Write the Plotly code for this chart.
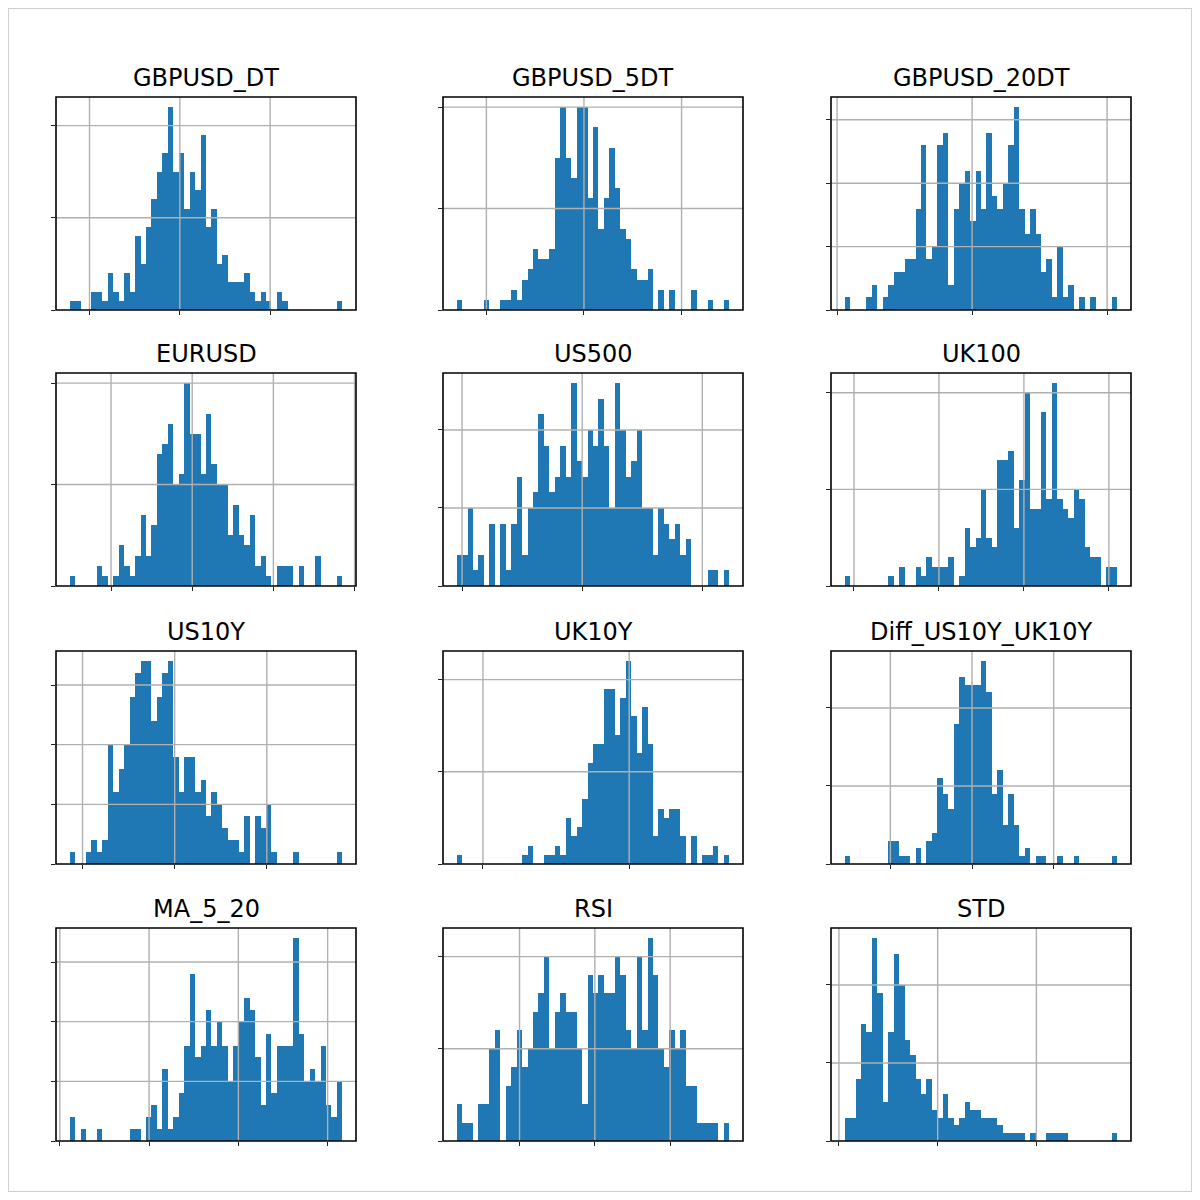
import numpy as np
import plotly.graph_objects as go

# histogram counts (50 bins each)
names = ["GBPUSD_DT", "GBPUSD_5DT", "GBPUSD_20DT", "EURUSD", "US500", "UK100",
         "US10Y", "UK10Y", "Diff_US10Y_UK10Y", "MA_5_20", "RSI", "STD"]

gbpusd_dt = [1,1,0,0,2,2,1,4,2,1, 4,2,8,5,9,12,15,17,22,15, 17,11,15,13,19,9,11,5,6,3,
             3,3,4,2,1,2,1,0,2,1, 0,0,0,0,0,0,0,0,0,1]
gbpusd_5dt = [1,0,0,0,0,1,0,0,1,1, 2,1,3,4,6,5,5,6,15,20, 15,13,20,20,11,18,8,11,16,12,
              8,7,4,3,3,4,0,2,0,2, 0,0,0,2,0,0,1,0,0,1]
gbpusd_20dt = [1,0,0,0,1,2,0,1,2,3, 3,4,4,8,13,4,5,13,14,2, 8,10,11,7,11,8,14,9,8,10,
               13,16,8,6,8,6,3,4,1,5, 1,2,0,1,0,1,0,0,0,1]
eurusd = [1,0,0,0,0,2,1,0,1,4, 2,1,3,7,3,6,13,14,16,10, 11,20,15,15,11,17,12,10,10,5,
          8,5,4,7,2,3,1,0,2,2, 2,0,2,0,0,3,0,0,0,1]
us500 = [2,2,5,1,2,0,4,0,4,1, 4,7,2,5,6,11,9,6,7,9, 7,13,8,7,10,9,12,9,5,13,
         10,7,8,10,5,5,2,5,4,3, 4,2,3,0,0,0,1,1,0,1]
uk100 = [1,0,0,0,0,0,0,0,1,0, 2,0,0,2,1,3,2,2,2,3, 0,1,6,4,5,10,5,4,13,13,
         14,6,11,20,8,8,18,9,21,9, 8,7,10,9,4,3,3,0,2,2]
us10y = [1,0,0,1,2,1,2,10,6,8, 10,14,16,17,17,12,14,16,17,9, 6,9,9,6,7,4,6,5,3,2,
         2,1,4,0,4,3,5,1,0,0, 0,1,0,0,0,0,0,0,0,1]
uk10y = [1,0,0,0,0,0,0,0,0,0, 0,0,1,2,0,0,1,1,2,1, 5,3,4,7,11,13,13,19,19,14,
         18,22,16,12,17,13,3,6,5,6, 6,3,0,3,0,1,1,2,0,1]
diff_us_uk = [1,0,0,0,0,0,0,0,3,3, 1,1,0,2,0,3,4,11,9,7, 18,24,23,23,23,26,22,9,12,5,
              9,5,1,2,0,1,1,0,0,1, 0,0,1,0,0,0,0,0,0,1]
ma_5_20 = [2,0,1,0,0,1,0,0,0,0, 0,1,1,0,2,3,1,6,1,2, 4,8,14,7,8,11,8,10,8,5,
           8,10,12,11,7,3,9,4,8,8, 8,17,9,5,6,5,8,3,2,5]
rsi = [2,1,1,0,2,2,5,6,0,3, 4,6,4,5,7,8,10,5,7,8, 7,7,5,2,9,8,9,8,8,10,
       9,6,5,10,6,11,9,5,4,6, 5,6,3,3,1,1,1,1,0,1]
std = [3,3,8,15,14,26,19,5,14,24, 20,13,11,8,6,8,4,3,6,3, 2,3,5,4,4,3,3,3,2,1,
       1,1,1,0,1,0,0,1,1,1, 1,0,0,0,0,0,0,0,0,1]

counts = [gbpusd_dt, gbpusd_5dt, gbpusd_20dt, eurusd, us500, uk100,
          us10y, uk10y, diff_us_uk, ma_5_20, rsi, std]

# data min / max of each column (bin range)
bin_ranges = [(-0.0122, 0.0180), (-0.0261, 0.0298), (-0.0472, 0.0538),
              (-0.0151, 0.0185), (-0.0209, 0.0245), (-0.0211, 0.0110),
              (-0.057, 0.091), (-0.118, 0.0685), (-0.078, 0.089),
              (-0.0189, 0.01165), (31.65, 67.86), (0.00029, 0.0141)]

x_ticks = [[-0.01, 0, 0.01], [-0.02, 0, 0.02], [-0.05, 0, 0.05],
           [-0.01, 0, 0.01, 0.02], [-0.02, 0, 0.02], [-0.02, -0.01, 0, 0.01],
           [-0.05, 0, 0.05], [-0.1, 0], [-0.05, 0, 0.05],
           [-0.02, -0.01, 0, 0.01], [40, 50, 60], [0, 0.005, 0.01]]
y_ticks = [[0, 10, 20], [0, 10, 20], [0, 5, 10, 15], [0, 10, 20], [0, 5, 10],
           [0, 10, 20], [0, 5, 10, 15], [0, 10, 20], [0, 10, 20],
           [0, 5, 10, 15], [0, 5, 10], [0, 10, 20]]

# page geometry (pixels)
OFF = 8
W = 1184
col_left = [56, 443, 831]
row_top = [97, 373, 651, 928]
ax_w = 300
ax_h = 213


def fx(x):
    return (x - OFF) / W


def fy(y):
    return 1 - (y - OFF) / W


fig = go.Figure()
shapes = []
annotations = []
blue = "#1f77b4"
grid = "#b0b0b0"

for i, name in enumerate(names):
    r, c = divmod(i, 3)
    n = i + 1
    sfx = "" if n == 1 else str(n)
    lo, hi = bin_ranges[i]
    edges = np.linspace(lo, hi, len(counts[i]) + 1)
    centers = (edges[:-1] + edges[1:]) / 2
    bw = edges[1] - edges[0]

    fig.add_trace(go.Bar(x=centers, y=counts[i], width=bw,
                         marker=dict(color=blue, line=dict(width=0)),
                         xaxis="x" + sfx, yaxis="y" + sfx, showlegend=False))

    span = hi - lo
    ymax = max(counts[i]) * 1.05
    x0, x1 = col_left[c], col_left[c] + ax_w
    y0, y1 = row_top[r], row_top[r] + ax_h

    fig.layout["xaxis" + sfx] = dict(
        domain=[fx(x0), fx(x1)], anchor="y" + sfx,
        range=[lo - 0.05 * span, hi + 0.05 * span],
        tickvals=x_ticks[i], showticklabels=False, ticks="outside",
        ticklen=4, tickwidth=1.2, tickcolor="#222222",
        showgrid=False, zeroline=False, showline=False, fixedrange=True)
    fig.layout["yaxis" + sfx] = dict(
        domain=[fy(y1), fy(y0)], anchor="x" + sfx, range=[0, ymax],
        tickvals=y_ticks[i], showticklabels=False, ticks="outside",
        ticklen=4, tickwidth=1.2, tickcolor="#222222",
        showgrid=False, zeroline=False, showline=False, fixedrange=True)

    # grid lines drawn above the bars, like matplotlib
    for t in x_ticks[i]:
        shapes.append(dict(type="line", xref="x" + sfx, yref="y" + sfx + " domain",
                           x0=t, x1=t, y0=0, y1=1, layer="above",
                           line=dict(color=grid, width=1.4)))
    for t in y_ticks[i]:
        if t == 0:
            continue
        shapes.append(dict(type="line", xref="x" + sfx + " domain", yref="y" + sfx,
                           x0=0, x1=1, y0=t, y1=t, layer="above",
                           line=dict(color=grid, width=1.4)))
    # axes frame
    shapes.append(dict(type="rect", xref="x" + sfx + " domain", yref="y" + sfx + " domain",
                       x0=0, x1=1, y0=0, y1=1, layer="above",
                       line=dict(color="black", width=1.6)))

    annotations.append(dict(text=name, xref="paper", yref="paper",
                            x=fx((x0 + x1) / 2), y=fy(y0), xanchor="center",
                            yanchor="bottom", yshift=3, showarrow=False,
                            font=dict(family="DejaVu Sans", size=24, color="black")))

# light outer border of the figure
shapes.append(dict(type="rect", xref="paper", yref="paper", x0=0, x1=1, y0=0, y1=1,
                   layer="above", line=dict(color="#d0d0d0", width=2)))

fig.update_layout(width=W, height=W, margin=dict(l=0, r=0, t=0, b=0),
                  paper_bgcolor="white", plot_bgcolor="white",
                  bargap=0, shapes=shapes, annotations=annotations,
                  font=dict(family="DejaVu Sans"))

fig.write_html("out.html")
